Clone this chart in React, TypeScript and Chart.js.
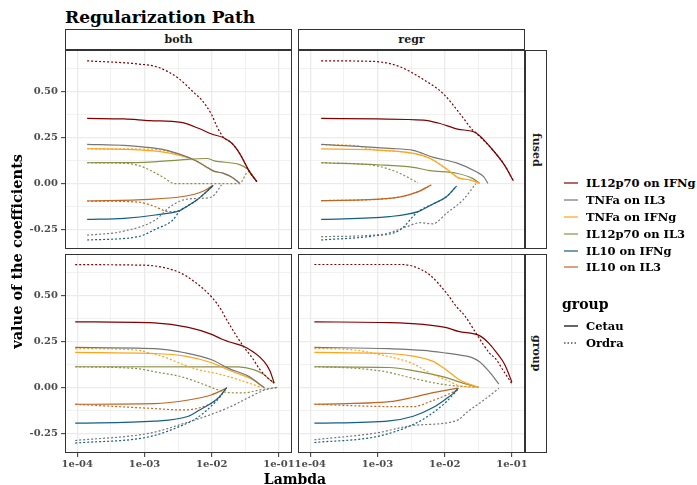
import React, { useEffect, useRef } from 'react';
import { Chart, registerables } from 'chart.js';

Chart.register(...registerables);

// ---------- categories / labels ----------
const VARIABLES = ['IL12p70 on IFNg', 'TNFa on IL3', 'TNFa on IFNg', 'IL12p70 on IL3', 'IL10 on IFNg', 'IL10 on IL3'];
const VARIABLE_COLORS = ['#800000', '#767676', '#FFA319', '#8A9045', '#155F83', '#C16622'];
const GROUPS = ['Cetau', 'Ordra'];
const COLUMN_LABELS = ['both', 'regr'];
const ROW_LABELS = ['fused', 'group'];
const TITLE = 'Regularization Path';
const X_TITLE = 'Lambda';
const Y_TITLE = 'value of the coefficients';
const LEGEND_GROUP_TITLE = 'group';

// ---------- axis ticks ----------
const X_MAJOR = [1e-4, 1e-3, 1e-2, 1e-1];
const X_TICK_LABELS = ['1e-04', '1e-03', '1e-02', '1e-01'];
const X_MINOR = [3.1623e-4, 3.1623e-3, 3.1623e-2];
const X_MIN = 6.56e-5;
const X_MAX = 0.1567;
const Y_MAJOR = [-0.25, 0, 0.25, 0.5];
const Y_TICK_LABELS = ['-0.25', '0.00', '0.25', '0.50'];
const Y_MINOR = [-0.125, 0.125, 0.375, 0.625];
const Y_MIN = -0.355;
const Y_MAX = 0.727;

// ---------- data: [lambda, coefficient] paths, one per variable (VARIABLES order) ----------
// facet "both" / "fused"
const BOTH_FUSED_CETAU = [
  [[1.4e-4, 0.355], [5e-4, 0.352], [1.2e-3, 0.343], [3.5e-3, 0.333], [6.5e-3, 0.30], [1e-2, 0.27], [1.5e-2, 0.25], [2e-2, 0.22], [2.6e-2, 0.165], [3.7e-2, 0.062], [4.7e-2, 0.011]],
  [[1.4e-4, 0.214], [5e-4, 0.208], [1e-3, 0.199], [2e-3, 0.184], [3.5e-3, 0.158], [5.6e-3, 0.128], [8e-3, 0.095], [1.05e-2, 0.07], [1.5e-2, 0.056], [2e-2, 0.035], [2.6e-2, 0.004]],
  [[1.4e-4, 0.19], [5e-4, 0.187], [1.2e-3, 0.18], [2.5e-3, 0.165], [3.8e-3, 0.148], [5.6e-3, 0.128], [8e-3, 0.095], [1.05e-2, 0.07], [1.5e-2, 0.056], [2e-2, 0.035], [2.6e-2, 0.004]],
  [[1.4e-4, 0.114], [1e-3, 0.116], [3.5e-3, 0.13], [8.5e-3, 0.137], [1.1e-2, 0.124], [2.6e-2, 0.104], [3.4e-2, 0.08], [4.7e-2, 0.011]],
  [[1.4e-4, -0.194], [5e-4, -0.188], [1.45e-3, -0.17], [3.4e-3, -0.145], [4.5e-3, -0.118], [6e-3, -0.089], [8e-3, -0.05], [1.05e-2, -0.01]],
  [[1.4e-4, -0.094], [1.2e-3, -0.085], [3.5e-3, -0.071], [6.5e-3, -0.049], [8.5e-3, -0.03], [1.05e-2, -0.008]],
];
const BOTH_FUSED_ORDRA = [
  [[1.4e-4, 0.668], [8e-4, 0.651], [1.6e-3, 0.633], [3.2e-3, 0.573], [5.6e-3, 0.491], [7.1e-3, 0.455], [1e-2, 0.375], [1.2e-2, 0.31], [1.5e-2, 0.252], [2e-2, 0.22], [2.6e-2, 0.165], [3.7e-2, 0.062], [4.7e-2, 0.011]],
  [[1.4e-4, -0.28], [4.6e-4, -0.26], [1.45e-3, -0.197], [2.4e-3, -0.125], [3.7e-3, -0.089], [6.3e-3, -0.08], [1e-2, -0.072], [1.4e-2, -0.007]],
  [[1.4e-4, 0.19], [5e-4, 0.189], [1.2e-3, 0.188], [2.5e-3, 0.172], [3.8e-3, 0.148], [5.6e-3, 0.128], [8e-3, 0.095], [1.05e-2, 0.07], [1.5e-2, 0.056], [2e-2, 0.035], [2.6e-2, 0.004]],
  [[1.4e-4, 0.114], [5e-4, 0.111], [8e-4, 0.10], [1.2e-3, 0.074], [2e-3, 0.03], [2.8e-3, 0.0], [2.6e-2, 0.0], [3.5e-2, 0.065], [4.7e-2, 0.011]],
  [[1.4e-4, -0.306], [8e-4, -0.288], [1.5e-3, -0.245], [2.6e-3, -0.2], [3.4e-3, -0.145], [4.5e-3, -0.118], [6e-3, -0.089], [8e-3, -0.05], [1.05e-2, -0.01]],
  [[1.4e-4, -0.094], [8e-4, -0.1], [1.45e-3, -0.125], [2.3e-3, -0.152], [3.4e-3, -0.145], [4.5e-3, -0.118], [6e-3, -0.089], [8e-3, -0.05], [1.05e-2, -0.01]],
];
// facet "regr" / "fused"
const REGR_FUSED_CETAU = [
  [[1.45e-4, 0.355], [1e-3, 0.352], [4.8e-3, 0.346], [8e-3, 0.33], [1.55e-2, 0.297], [2.9e-2, 0.277], [5e-2, 0.19], [7.8e-2, 0.10], [1.05e-1, 0.016]],
  [[1.45e-4, 0.214], [1.5e-3, 0.192], [3.4e-3, 0.181], [6.8e-3, 0.143], [1.5e-2, 0.113], [2.95e-2, 0.065], [3.8e-2, 0.038], [4.4e-2, 0.002]],
  [[1.45e-4, 0.189], [1e-3, 0.183], [3.4e-3, 0.165], [6e-3, 0.138], [1.15e-2, 0.071], [1.58e-2, 0.033], [2.4e-2, 0.02], [3.3e-2, 0.002]],
  [[1.45e-4, 0.114], [1e-3, 0.103], [3.4e-3, 0.089], [6e-3, 0.071], [1.5e-2, 0.057], [2.6e-2, 0.029], [3.3e-2, 0.002]],
  [[1.45e-4, -0.194], [1.5e-3, -0.179], [4e-3, -0.152], [6.7e-3, -0.11], [1.06e-2, -0.071], [1.5e-2, -0.013]],
  [[1.45e-4, -0.092], [1.5e-3, -0.08], [3.8e-3, -0.047], [6.3e-3, -0.007]],
];
const REGR_FUSED_ORDRA = [
  [[1.45e-4, 0.668], [8.7e-4, 0.665], [2.15e-3, 0.636], [4.8e-3, 0.567], [9.4e-3, 0.491], [1.67e-2, 0.383], [2.6e-2, 0.292], [2.9e-2, 0.277], [5e-2, 0.19], [7.8e-2, 0.10], [1.05e-1, 0.016]],
  [[1.45e-4, -0.288], [1.2e-3, -0.275], [2.7e-3, -0.234], [4.3e-3, -0.212], [6.7e-3, -0.218], [1.06e-2, -0.161], [1.86e-2, -0.089], [2.9e-2, 0.0]],
  [[1.45e-4, 0.212], [4.9e-4, 0.207], [7e-4, 0.192], [1e-3, 0.183], [3.4e-3, 0.165], [6e-3, 0.138], [1.15e-2, 0.071], [1.58e-2, 0.033], [2.4e-2, 0.02], [3.3e-2, 0.002]],
  [[1.45e-4, 0.114], [8.7e-4, 0.10], [1.9e-3, 0.065], [4e-3, 0.005]],
  [[1.45e-4, -0.306], [8.7e-4, -0.284], [2.15e-3, -0.252], [4e-3, -0.152], [6.7e-3, -0.11], [1.06e-2, -0.071], [1.5e-2, -0.013]],
  [[1.45e-4, -0.092], [1.5e-3, -0.08], [3.8e-3, -0.047], [6.3e-3, -0.007]],
];
// facet "both" / "group"
const BOTH_GROUP_CETAU = [
  [[9.3e-5, 0.358], [1.4e-3, 0.352], [4.5e-3, 0.328], [1e-2, 0.29], [1.4e-2, 0.265], [1.8e-2, 0.25], [3.3e-2, 0.217], [6e-2, 0.143], [7.4e-2, 0.09], [8.5e-2, 0.025]],
  [[9.3e-5, 0.219], [1.4e-3, 0.213], [4e-3, 0.19], [1e-2, 0.152], [1.78e-2, 0.105], [3.5e-2, 0.063], [6.1e-2, 0.0]],
  [[9.3e-5, 0.192], [1.4e-3, 0.186], [4e-3, 0.172], [1e-2, 0.136], [1.78e-2, 0.096], [3.7e-2, 0.051], [6.1e-2, 0.0]],
  [[9.3e-5, 0.114], [2.5e-2, 0.113], [4.2e-2, 0.098], [6e-2, 0.072], [7.5e-2, 0.04], [8.5e-2, 0.025]],
  [[9.3e-5, -0.193], [1.4e-3, -0.182], [4.5e-3, -0.155], [6.6e-3, -0.121], [1.06e-2, -0.076], [1.3e-2, -0.05], [1.67e-2, 0.0]],
  [[9.3e-5, -0.09], [1.4e-3, -0.087], [4.5e-3, -0.067], [1e-2, -0.038], [1.67e-2, -0.002]],
];
const BOTH_GROUP_ORDRA = [
  [[9.3e-5, 0.669], [1e-3, 0.666], [3.2e-3, 0.629], [5.6e-3, 0.575], [1e-2, 0.493], [1.4e-2, 0.421], [1.58e-2, 0.385], [2.5e-2, 0.265], [3.1e-2, 0.215], [4e-2, 0.163], [5.2e-2, 0.10], [6.5e-2, 0.06], [8.5e-2, 0.025]],
  [[9.3e-5, -0.287], [1.2e-3, -0.247], [3.8e-3, -0.195], [1.17e-2, -0.135], [2.1e-2, -0.096], [3.7e-2, -0.05], [6.2e-2, -0.012], [9.6e-2, 0.002]],
  [[9.3e-5, 0.213], [8e-4, 0.204], [1.2e-3, 0.188], [1.8e-3, 0.172], [3.8e-3, 0.125], [6.6e-3, 0.096], [1.17e-2, 0.078], [2.6e-2, 0.042], [5.2e-2, 0.005]],
  [[9.3e-5, 0.114], [8e-4, 0.103], [1.5e-3, 0.085], [3.5e-3, 0.06], [8e-3, 0.015], [1.2e-2, -0.01], [1.8e-2, -0.027], [3e-2, -0.028], [5.2e-2, -0.012], [9.5e-2, 0.002]],
  [[9.3e-5, -0.301], [1.2e-3, -0.266], [3.8e-3, -0.202], [5.6e-3, -0.172], [7.5e-3, -0.139], [1.05e-2, -0.09], [1.3e-2, -0.055], [1.67e-2, 0.0]],
  [[9.3e-5, -0.09], [1.2e-3, -0.112], [3.8e-3, -0.121], [7.5e-3, -0.103], [1.17e-2, -0.067], [1.67e-2, 0.0]],
];
// facet "regr" / "group"
const REGR_GROUP_CETAU = [
  [[1.15e-4, 0.358], [1.5e-3, 0.354], [4.8e-3, 0.344], [1.06e-2, 0.327], [1.6e-2, 0.306], [3.3e-2, 0.283], [4.6e-2, 0.24], [5.8e-2, 0.195], [7.3e-2, 0.145], [8.2e-2, 0.11], [1e-1, 0.03]],
  [[1.15e-4, 0.219], [1.5e-3, 0.212], [4.8e-3, 0.203], [1.06e-2, 0.188], [1.7e-2, 0.177], [2.5e-2, 0.165], [3.3e-2, 0.141], [4.6e-2, 0.087], [6.4e-2, 0.02]],
  [[1.15e-4, 0.192], [1.5e-3, 0.186], [3.4e-3, 0.172], [6.7e-3, 0.143], [1.06e-2, 0.096], [1.67e-2, 0.042], [2.2e-2, 0.022], [3.2e-2, 0.002]],
  [[1.15e-4, 0.114], [1.5e-3, 0.11], [3.4e-3, 0.093], [1.06e-2, 0.055], [1.86e-2, 0.025], [3.2e-2, 0.002]],
  [[1.15e-4, -0.193], [1.5e-3, -0.18], [3.4e-3, -0.155], [6.7e-3, -0.108], [1.1e-2, -0.055], [1.33e-2, -0.032], [1.6e-2, -0.002]],
  [[1.15e-4, -0.09], [1.5e-3, -0.076], [3.4e-3, -0.052], [6.7e-3, -0.027], [1.55e-2, -0.002]],
];
const REGR_GROUP_ORDRA = [
  [[1.15e-4, 0.67], [2.2e-3, 0.67], [3.4e-3, 0.66], [6e-3, 0.613], [1.06e-2, 0.515], [1.5e-2, 0.44], [2e-2, 0.39], [3e-2, 0.29], [4.6e-2, 0.19], [5.8e-2, 0.155], [7.3e-2, 0.098], [1e-1, 0.022]],
  [[1.15e-4, -0.283], [1e-3, -0.245], [3.4e-3, -0.205], [1.5e-2, -0.179], [2.2e-2, -0.13], [3.9e-2, -0.065], [6.4e-2, -0.003]],
  [[1.15e-4, 0.213], [4e-4, 0.207], [1.1e-3, 0.18], [3.4e-3, 0.13], [6e-3, 0.08], [1.06e-2, 0.042], [1.67e-2, 0.01], [3.2e-2, 0.002]],
  [[1.15e-4, 0.114], [5e-4, 0.105], [1.3e-3, 0.087], [3.4e-3, 0.051], [1.06e-2, 0.015], [3.2e-2, 0.002]],
  [[1.15e-4, -0.298], [1e-3, -0.265], [3.4e-3, -0.2], [6e-3, -0.148], [1.06e-2, -0.076], [1.6e-2, -0.005]],
  [[1.15e-4, -0.09], [1.1e-3, -0.102], [3.4e-3, -0.103], [6e-3, -0.076], [1.06e-2, -0.04], [1.6e-2, -0.009]],
];

// ---------- layout (styles/positions, separate from data) ----------
const FONT = "'DejaVu Serif', serif";
const PANEL_W = 227;
const PANEL_H = 199;
const COL_X = [65, 298];
const ROW_Y = [50, 254];
const X_AXIS_H = 23;
const Y_AXIS_W = 65;
const PAD_SIDE = 20;
const PAD_RIGHT = 6;

const PANELS = [
  { col: 0, row: 0, cetau: BOTH_FUSED_CETAU, ordra: BOTH_FUSED_ORDRA },
  { col: 1, row: 0, cetau: REGR_FUSED_CETAU, ordra: REGR_FUSED_ORDRA },
  { col: 0, row: 1, cetau: BOTH_GROUP_CETAU, ordra: BOTH_GROUP_ORDRA },
  { col: 1, row: 1, cetau: REGR_GROUP_CETAU, ordra: REGR_GROUP_ORDRA },
];

const near = (a: number, b: number) => Math.abs(a - b) < 1e-9 * Math.max(1, Math.abs(b)) + 1e-12;
const nearLog = (a: number, b: number) => Math.abs(Math.log10(a) - Math.log10(b)) < 1e-4;

const panelBorder = {
  id: 'panelBorder',
  afterDraw(chart: any) {
    const { ctx, chartArea } = chart;
    ctx.save();
    ctx.strokeStyle = '#333333';
    ctx.lineWidth = 1;
    ctx.strokeRect(chartArea.left + 0.5, chartArea.top + 0.5, chartArea.right - chartArea.left - 1, chartArea.bottom - chartArea.top - 1);
    ctx.restore();
  },
};

const zeroPadding = (axis: any) => {
  axis.paddingTop = 0;
  axis.paddingBottom = 0;
  axis.paddingLeft = 0;
  axis.paddingRight = 0;
};

function buildDatasets(cetau: number[][][], ordra: number[][][]) {
  const ds: any[] = [];
  VARIABLES.forEach((name, i) => {
    [cetau, ordra].forEach((paths, g) => {
      ds.push({
        label: name + ' / ' + GROUPS[g],
        data: paths[i].map(([x, y]) => ({ x, y })),
        borderColor: VARIABLE_COLORS[i],
        backgroundColor: VARIABLE_COLORS[i],
        borderWidth: 1.2,
        borderDash: g === 1 ? [2, 2] : [],
        pointRadius: 0,
        fill: false,
        cubicInterpolationMode: 'monotone',
      });
    });
  });
  return ds;
}

function makeConfig(p: any) {
  const showX = p.row === 1;
  const showY = p.col === 0;
  const tickFont = { family: FONT, weight: 'bold' as const, size: 10 };
  return {
    type: 'line' as const,
    data: { datasets: buildDatasets(p.cetau, p.ordra) },
    options: {
      animation: false as const,
      responsive: false,
      maintainAspectRatio: false,
      events: [],
      layout: { autoPadding: false, padding: { left: showY ? 0 : PAD_SIDE, right: PAD_RIGHT, top: 0, bottom: 0 } },
      plugins: { legend: { display: false }, tooltip: { enabled: false }, title: { display: false } },
      scales: {
        x: {
          type: 'logarithmic' as const,
          min: X_MIN,
          max: X_MAX,
          afterBuildTicks: (axis: any) => {
            axis.ticks = [...X_MAJOR, ...X_MINOR].sort((a, b) => a - b).map((v) => ({ value: v }));
          },
          afterFit: (axis: any) => { axis.height = showX ? X_AXIS_H : 0; zeroPadding(axis); },
          ticks: {
            display: showX,
            autoSkip: false,
            maxRotation: 0,
            minRotation: 0,
            padding: 1,
            color: '#4D4D4D',
            font: tickFont,
            callback: (v: any) => {
              const i = X_MAJOR.findIndex((m) => nearLog(Number(v), m));
              return i >= 0 ? X_TICK_LABELS[i] : '';
            },
          },
          grid: {
            drawTicks: showX,
            tickLength: 4,
            color: '#EBEBEB',
            lineWidth: (c: any) => (c.tick && X_MAJOR.some((m) => nearLog(c.tick.value, m)) ? 1.3 : 0.7),
            tickColor: (c: any) => (c.tick && X_MAJOR.some((m) => nearLog(c.tick.value, m)) ? '#333333' : 'rgba(0,0,0,0)'),
            tickWidth: 1,
          },
          border: { display: false },
        },
        y: {
          type: 'linear' as const,
          min: Y_MIN,
          max: Y_MAX,
          afterBuildTicks: (axis: any) => {
            axis.ticks = [...Y_MAJOR, ...Y_MINOR].sort((a, b) => a - b).map((v) => ({ value: v }));
          },
          afterFit: (axis: any) => { axis.width = showY ? Y_AXIS_W : 0; zeroPadding(axis); },
          ticks: {
            display: showY,
            autoSkip: false,
            padding: 3,
            color: '#4D4D4D',
            font: tickFont,
            callback: (v: any) => {
              const i = Y_MAJOR.findIndex((m) => near(Number(v), m));
              return i >= 0 ? Y_TICK_LABELS[i] : '';
            },
          },
          grid: {
            drawTicks: showY,
            tickLength: 4,
            color: '#EBEBEB',
            lineWidth: (c: any) => (c.tick && Y_MAJOR.some((m) => near(c.tick.value, m)) ? 1.3 : 0.7),
            tickColor: (c: any) => (c.tick && Y_MAJOR.some((m) => near(c.tick.value, m)) ? '#333333' : 'rgba(0,0,0,0)'),
            tickWidth: 1,
          },
          border: { display: false },
        },
      },
    },
    plugins: [panelBorder],
  };
}

function canvasBox(p: any) {
  const showX = p.row === 1;
  const showY = p.col === 0;
  const left = showY ? COL_X[p.col] - Y_AXIS_W : COL_X[p.col] - PAD_SIDE;
  const width = (showY ? Y_AXIS_W : PAD_SIDE) + PANEL_W + PAD_RIGHT;
  const top = ROW_Y[p.row];
  const height = PANEL_H + (showX ? X_AXIS_H : 0);
  return { left, top, width, height };
}

function LegendLine({ color, dotted }: { color: string; dotted: boolean }) {
  return (
    <svg width={16} height={6} style={{ display: 'block' }}>
      <line x1={1} y1={3} x2={15} y2={3} stroke={color} strokeWidth={1.2} strokeDasharray={dotted ? '1.5 2' : undefined} />
    </svg>
  );
}

export default function App() {
  const refs = [useRef<HTMLCanvasElement>(null), useRef<HTMLCanvasElement>(null), useRef<HTMLCanvasElement>(null), useRef<HTMLCanvasElement>(null)];

  useEffect(() => {
    const charts = PANELS.map((p, i) => new Chart(refs[i].current as HTMLCanvasElement, makeConfig(p) as any));
    return () => charts.forEach((c) => c.destroy());
  }, []);

  const textBase: React.CSSProperties = { position: 'absolute', fontFamily: FONT, fontWeight: 'bold', whiteSpace: 'nowrap' };
  const LEG_X = 563;
  const LEG_Y = [183, 200, 217, 234, 250.5, 267];
  const GROUP_Y = [325.5, 342.5];

  return (
    <div style={{ position: 'absolute', left: 0, top: 0, width: 697, height: 485, background: '#ffffff', overflow: 'hidden' }}>
      <div style={{ ...textBase, left: 65, top: 7, fontSize: 17, lineHeight: '20px', color: '#000' }}>{TITLE}</div>

      {COLUMN_LABELS.map((lab, c) => (
        <div key={lab} style={{ ...textBase, left: COL_X[c], top: 29, width: PANEL_W, height: 21, boxSizing: 'border-box', border: '1px solid #333333', background: '#fff', fontSize: 11, lineHeight: '19px', textAlign: 'center', color: '#1A1A1A' }}>{lab}</div>
      ))}
      {ROW_LABELS.map((lab, r) => (
        <div key={lab} style={{ ...textBase, left: COL_X[1] + PANEL_W, top: ROW_Y[r], width: 22, height: PANEL_H, boxSizing: 'border-box', border: '1px solid #333333', background: '#fff', display: 'flex', alignItems: 'center', justifyContent: 'center' }}>
          <span style={{ writingMode: 'vertical-rl', fontSize: 11, color: '#1A1A1A' }}>{lab}</span>
        </div>
      ))}

      {PANELS.map((p, i) => {
        const b = canvasBox(p);
        return <canvas key={i} ref={refs[i]} width={b.width} height={b.height} style={{ position: 'absolute', left: b.left, top: b.top, width: b.width, height: b.height }} />;
      })}

      <div style={{ ...textBase, left: 4, top: ROW_Y[0], width: 24, height: ROW_Y[1] + PANEL_H - ROW_Y[0], display: 'flex', alignItems: 'center', justifyContent: 'center' }}>
        <span style={{ writingMode: 'vertical-rl', transform: 'rotate(180deg)', fontSize: 14.5, color: '#000' }}>{Y_TITLE}</span>
      </div>
      <div style={{ ...textBase, left: COL_X[0], top: 471, width: COL_X[1] + PANEL_W - COL_X[0], textAlign: 'center', fontSize: 14, lineHeight: '16px', color: '#000' }}>{X_TITLE}</div>

      {VARIABLES.map((name, i) => (
        <div key={name} style={{ position: 'absolute', left: LEG_X, top: LEG_Y[i] - 8, height: 16, display: 'flex', alignItems: 'center' }}>
          <LegendLine color={VARIABLE_COLORS[i]} dotted={false} />
          <span style={{ ...textBase, position: 'static', marginLeft: 7, fontSize: 11.5, color: '#000' }}>{name}</span>
        </div>
      ))}
      <div style={{ ...textBase, left: LEG_X - 1, top: 296, fontSize: 14, lineHeight: '16px', color: '#000' }}>{LEGEND_GROUP_TITLE}</div>
      {GROUPS.map((g, i) => (
        <div key={g} style={{ position: 'absolute', left: LEG_X, top: GROUP_Y[i] - 8, height: 16, display: 'flex', alignItems: 'center' }}>
          <LegendLine color="#000000" dotted={i === 1} />
          <span style={{ ...textBase, position: 'static', marginLeft: 7, fontSize: 11.5, color: '#000' }}>{g}</span>
        </div>
      ))}
    </div>
  );
}
